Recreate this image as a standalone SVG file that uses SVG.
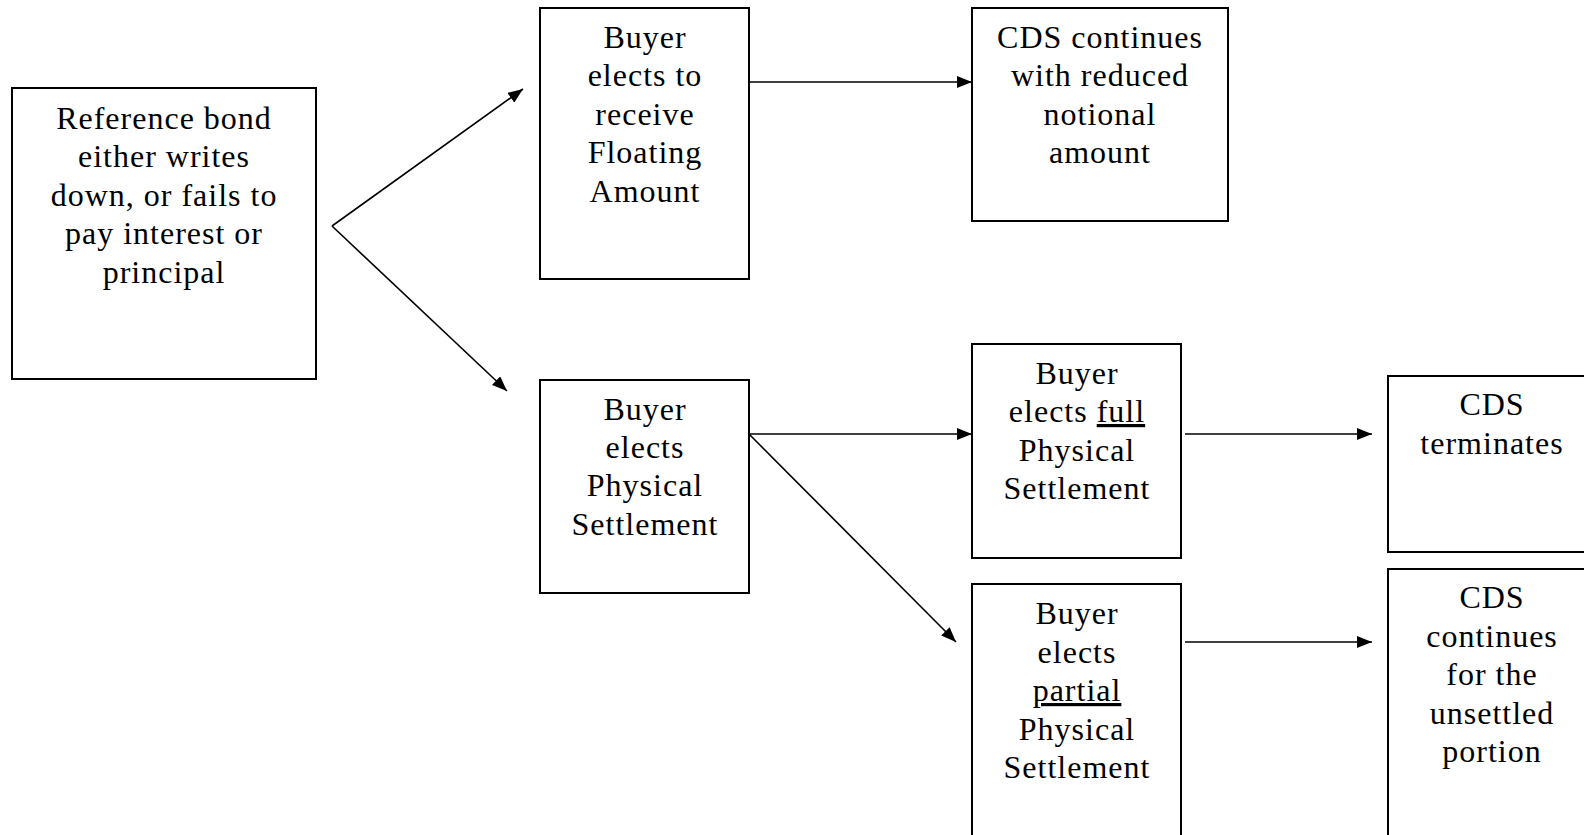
<svg xmlns="http://www.w3.org/2000/svg" width="1584" height="835" viewBox="0 0 1584 835">
<style>
.box{fill:#fff;stroke:#000;stroke-width:2}
.lbl{font-family:"Liberation Serif","Times New Roman",serif;font-size:32px;letter-spacing:1px;text-anchor:middle;fill:#000}
.conn{stroke:#000;stroke-width:1.6;fill:none}
</style>
<defs>
<marker id="ah" viewBox="0 0 15 12" refX="15" refY="6" markerWidth="15" markerHeight="12" markerUnits="userSpaceOnUse" orient="auto">
<path d="M0,0 L15,6 L0,12 z" fill="#000"/>
</marker>
</defs>
<rect width="1584" height="835" fill="#fff"/>
<g id="connectors">
<line class="conn" x1="332" y1="226" x2="523" y2="89" marker-end="url(#ah)"/>
<line class="conn" x1="332" y1="226" x2="507" y2="391" marker-end="url(#ah)"/>
<line class="conn" x1="749" y1="82" x2="972" y2="82" marker-end="url(#ah)"/>
<line class="conn" x1="749" y1="434" x2="972" y2="434" marker-end="url(#ah)"/>
<line class="conn" x1="749" y1="434" x2="956" y2="642" marker-end="url(#ah)"/>
<line class="conn" x1="1185" y1="434" x2="1372" y2="434" marker-end="url(#ah)"/>
<line class="conn" x1="1185" y1="642" x2="1372" y2="642" marker-end="url(#ah)"/>
</g>
<g id="n-reference">
<rect class="box" x="12" y="88" width="304" height="291"/>
<text class="lbl" x="164" y="129">Reference bond</text>
<text class="lbl" x="164" y="167">either writes</text>
<text class="lbl" x="164" y="206">down, or fails to</text>
<text class="lbl" x="164" y="244">pay interest or</text>
<text class="lbl" x="164" y="283">principal</text>
</g>
<g id="n-floating">
<rect class="box" x="540" y="8" width="209" height="271"/>
<text class="lbl" x="645" y="48">Buyer</text>
<text class="lbl" x="645" y="86">elects to</text>
<text class="lbl" x="645" y="125">receive</text>
<text class="lbl" x="645" y="163">Floating</text>
<text class="lbl" x="645" y="202">Amount</text>
</g>
<g id="n-reduced">
<rect class="box" x="972" y="8" width="256" height="213"/>
<text class="lbl" x="1100" y="48">CDS continues</text>
<text class="lbl" x="1100" y="86">with reduced</text>
<text class="lbl" x="1100" y="125">notional</text>
<text class="lbl" x="1100" y="163">amount</text>
</g>
<g id="n-physical">
<rect class="box" x="540" y="380" width="209" height="213"/>
<text class="lbl" x="645" y="420">Buyer</text>
<text class="lbl" x="645" y="458">elects</text>
<text class="lbl" x="645" y="496">Physical</text>
<text class="lbl" x="645" y="535">Settlement</text>
</g>
<g id="n-full">
<rect class="box" x="972" y="344" width="209" height="214"/>
<text class="lbl" x="1077" y="384">Buyer</text>
<text class="lbl" x="1077" y="422">elects <tspan text-decoration="underline">full</tspan></text>
<text class="lbl" x="1077" y="461">Physical</text>
<text class="lbl" x="1077" y="499">Settlement</text>
</g>
<g id="n-terminates">
<rect class="box" x="1388" y="376" width="220" height="176"/>
<text class="lbl" x="1492" y="415">CDS</text>
<text class="lbl" x="1492" y="454">terminates</text>
</g>
<g id="n-partial">
<rect class="box" x="972" y="584" width="209" height="270"/>
<text class="lbl" x="1077" y="624">Buyer</text>
<text class="lbl" x="1077" y="663">elects</text>
<text class="lbl" x="1077" y="701"><tspan text-decoration="underline">partial</tspan></text>
<text class="lbl" x="1077" y="740">Physical</text>
<text class="lbl" x="1077" y="778">Settlement</text>
</g>
<g id="n-unsettled">
<rect class="box" x="1388" y="569" width="220" height="285"/>
<text class="lbl" x="1492" y="608">CDS</text>
<text class="lbl" x="1492" y="647">continues</text>
<text class="lbl" x="1492" y="685">for the</text>
<text class="lbl" x="1492" y="724">unsettled</text>
<text class="lbl" x="1492" y="762">portion</text>
</g>
</svg>
